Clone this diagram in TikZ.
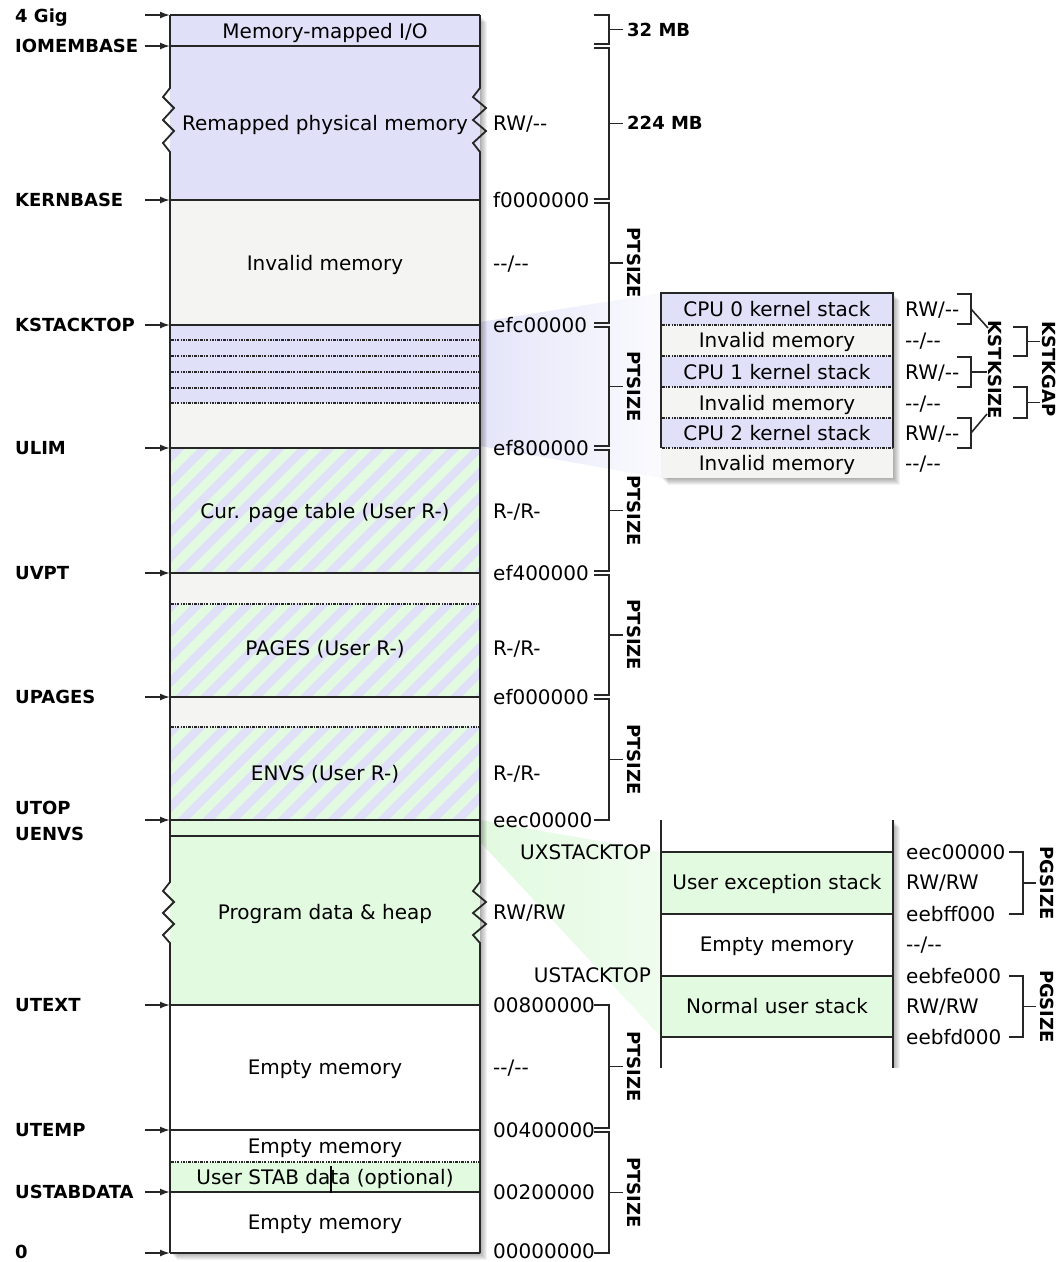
\documentclass[tikz,border=0pt]{standalone}
\usepackage{fontspec}
\setmainfont{DejaVu Sans}
\usetikzlibrary{arrows.meta}
\definecolor{lav}{RGB}{224,224,249}
\definecolor{grayf}{RGB}{244,244,243}
\definecolor{grn}{RGB}{226,250,224}
\newcommand\dd{-\kern0pt-}
\tikzset{
  txt/.style={font=\fontsize{20}{24}\selectfont, inner sep=0pt, text height=14.5pt, text depth=0pt},
  lbl/.style={font=\fontsize{18}{22}\selectfont\bfseries, inner sep=0pt, text height=13pt, text depth=0pt},
  vlbl/.style={lbl, rotate=-90},
  border/.style={line width=1.8pt, black!85},
  dotline/.style={line width=1.2pt, black!85, dash pattern=on 2.5pt off 1.2pt on 0.9pt off 1.2pt},
  ptr/.style={line width=1.6pt, black!85, -{Latex[length=10pt,width=7pt]}},
  brk/.style={line width=1.6pt, black!85},
}
\begin{document}
\begin{tikzpicture}[x=1pt,y=-1pt]
\useasboundingbox (0,0) rectangle (1060,1262);

% ---------- zoom wedges ----------
\shade[left color=lav!85, right color=lav!15] (480,322) -- (661,293) -- (661,478) -- (480,446) -- cycle;
\shade[left color=grn, right color=grn!55] (480,820) -- (661,852) -- (661,1037) -- (480,842) -- cycle;

% ---------- shadows ----------
\foreach \s in {1,...,7} {
  \fill[black,opacity=0.05] (170+\s,15+\s) rectangle (480+\s,1253+\s);
  \fill[black,opacity=0.05] (661+\s,293+\s) rectangle (893+\s,478+\s);
  \fill[black,opacity=0.05] (893,820+\s) rectangle (893+\s,1068);
}

% ---------- main box fills ----------
\fill[lav] (170,15) rectangle (480,200);
\fill[grayf] (170,200) rectangle (480,325);
\fill[lav] (170,325) rectangle (480,403);
\fill[grayf] (170,403) rectangle (480,448);
\fill[grayf] (170,573) rectangle (480,604);
\fill[grayf] (170,697) rectangle (480,727);
\fill[grn] (170,820) rectangle (480,1005);
\fill[white] (170,1005) rectangle (480,1162);
\fill[grn] (170,1162) rectangle (480,1192);
\fill[white] (170,1192) rectangle (480,1253);
\begin{scope}
  \clip (170,448) rectangle (480,573) (170,604) rectangle (480,697) (170,727) rectangle (480,820);
  \fill[lav] (170,448) rectangle (480,820);
  \foreach \k in {0,...,52} \draw[grn, line width=9pt] ({-240+25*\k},830) -- ++(420,-420);
\end{scope}

% ---------- main box borders ----------
\draw[border] (170,15) -- (480,15);
\draw[border] (170,1253) -- (480,1253);
\draw[border] (170,15) -- (170,88) -- (163,97) -- (174,108) -- (163,120) -- (174,131) -- (163,143) -- (170,152)
  -- (170,882) -- (163,891) -- (174,902) -- (163,913) -- (174,924) -- (163,935) -- (170,943) -- (170,1253);
\draw[border] (480,15) -- (480,88) -- (473,97) -- (486,108) -- (473,120) -- (486,131) -- (473,143) -- (480,152)
  -- (480,882) -- (473,891) -- (486,902) -- (473,913) -- (486,924) -- (473,935) -- (480,943) -- (480,1253);
\foreach \y in {46,200,325,448,573,697,820,836,1005,1130,1192} \draw[border] (170,\y) -- (480,\y);
\foreach \y in {340,356,372,388,403,604,727,1162} \draw[dotline] (171,\y) -- (479,\y);
\coordinate (tickT) at (331,1166);
\coordinate (tickB) at (331,1193);
\draw[line width=1.4pt] (tickT) -- (tickB);

% ---------- main box texts ----------
\node[txt] (t-mmio) at (325,31) {Memory-mapped I/O};
\node[txt] (t-remap) at (325,123) {Remapped physical memory};
\node[txt] (t-inv) at (325,263) {Invalid memory};
\node[txt] (t-upt) at (325,511) {Cur. page table (User R-)};
\node[txt] (t-pages) at (325,648) {PAGES (User R-)};
\node[txt] (t-envs) at (325,773) {ENVS (User R-)};
\node[txt] (t-prog) at (325,912) {Program data \& heap};
\node[txt] (t-empty1) at (325,1067) {Empty memory};
\node[txt] (t-empty2) at (325,1146) {Empty memory};
\node[txt] (t-stab) at (325,1177) {User STAB data (optional)};
\node[txt] (t-empty3) at (325,1222) {Empty memory};

% ---------- left pointers and labels ----------
\foreach \n/\y in {gig/15,iomem/46,kern/200,kstack/325,ulim/448,uvpt/573,upages/697,utop/820,utext/1005,utemp/1130,ustab/1192,zero/1253} {
  \coordinate (p-\n) at (145,\y);
  \coordinate (b-\n) at (170,\y);
  \draw[ptr] (p-\n) -- (b-\n);
}
\node[lbl,anchor=west] (l-gig) at (15,16) {4 Gig};
\node[lbl,anchor=west] (l-iomem) at (15,46) {IOMEMBASE};
\node[lbl,anchor=west] (l-kern) at (15,200) {KERNBASE};
\node[lbl,anchor=west] (l-kstack) at (15,325) {KSTACKTOP};
\node[lbl,anchor=west] (l-ulim) at (15,448) {ULIM};
\node[lbl,anchor=west] (l-uvpt) at (15,573) {UVPT};
\node[lbl,anchor=west] (l-upages) at (15,697) {UPAGES};
\node[lbl,anchor=west] (l-utop) at (15,808) {UTOP};
\node[lbl,anchor=west] (l-uenvs) at (15,834) {UENVS};
\node[lbl,anchor=west] (l-utext) at (15,1005) {UTEXT};
\node[lbl,anchor=west] (l-utemp) at (15,1130) {UTEMP};
\node[lbl,anchor=west] (l-ustab) at (15,1192) {USTABDATA};
\node[lbl,anchor=west] (l-zero) at (15,1252) {0};

% ---------- right values ----------
\node[txt,anchor=west] (r-1) at (493,123) {RW/\dd};
\node[txt,anchor=west] (r-2) at (493,200) {f0000000};
\node[txt,anchor=west] (r-3) at (493,263) {\dd/\dd};
\node[txt,anchor=west] (r-4) at (493,325) {efc00000};
\node[txt,anchor=west] (r-5) at (493,448) {ef800000};
\node[txt,anchor=west] (r-6) at (493,511) {R-/R-};
\node[txt,anchor=west] (r-7) at (493,573) {ef400000};
\node[txt,anchor=west] (r-8) at (493,648) {R-/R-};
\node[txt,anchor=west] (r-9) at (493,697) {ef000000};
\node[txt,anchor=west] (r-10) at (493,773) {R-/R-};
\node[txt,anchor=west] (r-11) at (493,820) {eec00000};
\node[txt,anchor=west] (r-12) at (493,912) {RW/RW};
\node[txt,anchor=west] (r-13) at (493,1005) {00800000};
\node[txt,anchor=west] (r-14) at (493,1067) {\dd/\dd};
\node[txt,anchor=west] (r-15) at (493,1130) {00400000};
\node[txt,anchor=west] (r-16) at (493,1192) {00200000};
\node[txt,anchor=west] (r-17) at (493,1251) {00000000};

% ---------- size brackets ----------
\foreach \a/\b in {15/44,48/199,203/323,327/446,450/571,575/695,699/820,1005/1128,1132/1253} {
  \draw[brk] (594,\a) -- (609,\a) -- (609,\b) -- (594,\b);
  \draw[brk] (609,{(\a+\b)/2}) -- (623,{(\a+\b)/2});
}
\node[lbl,anchor=west] (s-32) at (627,30) {32 MB};
\node[lbl,anchor=west] (s-224) at (627,123) {224 MB};
\foreach \a/\b in {203/323,327/446,450/571,575/695,699/820,1005/1128,1132/1253}
  \node[vlbl] at (634,{(\a+\b)/2}) {PTSIZE};

% ---------- kernel stack inset ----------
\fill[lav] (661,293) rectangle (893,325);
\fill[grayf] (661,325) rectangle (893,356);
\fill[lav] (661,356) rectangle (893,387);
\fill[grayf] (661,387) rectangle (893,418);
\fill[lav] (661,418) rectangle (893,448);
\fill[grayf] (661,448) rectangle (893,478);
\draw[border] (661,448) -- (661,293) -- (893,293) -- (893,448);
\foreach \y in {325,356,387,418,448} \draw[dotline] (662,\y) -- (892,\y);
\node[txt] (k-cpu0) at (777,309) {CPU 0 kernel stack};
\node[txt] (k-inv0) at (777,340) {Invalid memory};
\node[txt] (k-cpu1) at (777,372) {CPU 1 kernel stack};
\node[txt] (k-inv1) at (777,403) {Invalid memory};
\node[txt] (k-cpu2) at (777,433) {CPU 2 kernel stack};
\node[txt] (k-inv2) at (777,463) {Invalid memory};
\node[txt,anchor=west] (kr-1) at (905,309) {RW/\dd};
\node[txt,anchor=west] (kr-2) at (905,340) {\dd/\dd};
\node[txt,anchor=west] (kr-3) at (905,372) {RW/\dd};
\node[txt,anchor=west] (kr-4) at (905,403) {\dd/\dd};
\node[txt,anchor=west] (kr-5) at (905,433) {RW/\dd};
\node[txt,anchor=west] (kr-6) at (905,463) {\dd/\dd};
\foreach \a/\b in {294/324,357/387,418/448}
  \draw[brk] (957,\a) -- (971,\a) -- (971,\b) -- (957,\b);
\node[vlbl] (kstksize) at (995,370) {KSTKSIZE};
\draw[brk] (971,309) -- (988,328);
\draw[brk] (971,372) -- (987,372);
\draw[brk] (971,433) -- (987,414);
\foreach \a/\b in {327/356,387/418} {
  \draw[brk] (1013,\a) -- (1027,\a) -- (1027,\b) -- (1013,\b);
  \draw[brk] (1027,{(\a+\b)/2}) -- (1040,{(\a+\b)/2});
}
\node[vlbl] (kstkgap) at (1049,369) {KSTKGAP};

% ---------- user stack inset ----------
\fill[grn] (661,852) rectangle (893,914);
\fill[white] (661,914) rectangle (893,976);
\fill[grn] (661,976) rectangle (893,1037);
\draw[border] (661,820) -- (661,1068);
\draw[border] (893,820) -- (893,1068);
\foreach \y in {852,914,976,1037} \draw[border] (661,\y) -- (893,\y);
\node[txt] (u-exc) at (777,882) {User exception stack};
\node[txt] (u-empty) at (777,944) {Empty memory};
\node[txt] (u-norm) at (777,1006) {Normal user stack};
\node[txt,anchor=east] (u-uxst) at (651,852) {UXSTACKTOP};
\node[txt,anchor=east] (u-ust) at (651,975) {USTACKTOP};
\node[txt,anchor=west] (ur-1) at (906,852) {eec00000};
\node[txt,anchor=west] (ur-2) at (906,882) {RW/RW};
\node[txt,anchor=west] (ur-3) at (906,914) {eebff000};
\node[txt,anchor=west] (ur-4) at (906,944) {\dd/\dd};
\node[txt,anchor=west] (ur-5) at (906,976) {eebfe000};
\node[txt,anchor=west] (ur-6) at (906,1006) {RW/RW};
\node[txt,anchor=west] (ur-7) at (906,1037) {eebfd000};
\foreach \a/\b in {852/914,976/1037} {
  \draw[brk] (1009,\a) -- (1023,\a) -- (1023,\b) -- (1009,\b);
  \draw[brk] (1023,{(\a+\b)/2}) -- (1036,{(\a+\b)/2});
  \node[vlbl] at (1047,{(\a+\b)/2}) {PGSIZE};
}
\end{tikzpicture}
\end{document}
